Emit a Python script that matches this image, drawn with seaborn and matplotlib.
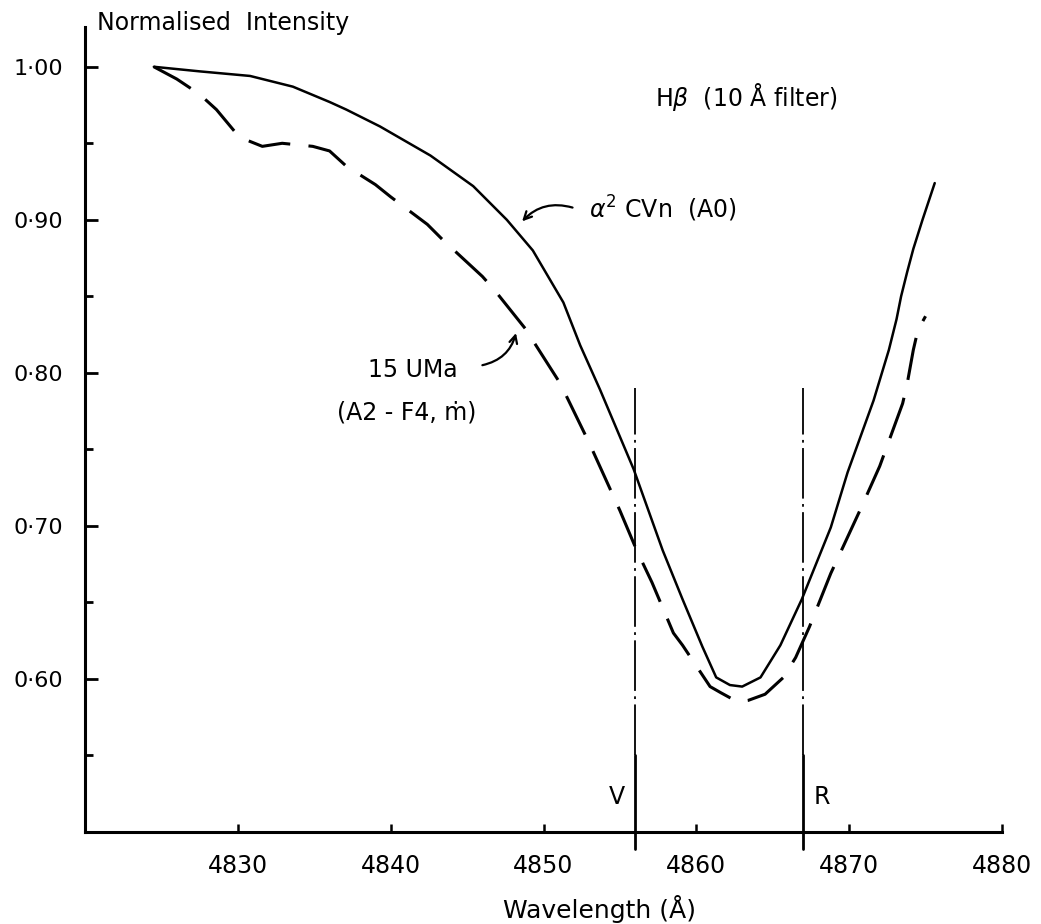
import matplotlib
matplotlib.use("Agg")
import matplotlib.pyplot as plt
import matplotlib.ticker as mticker
import seaborn as sns

# alpha^2 CVn (A0) - solid curve
wl_cvn = [4824.5, 4827.5, 4830.8, 4833.6, 4836.0, 4837.1, 4839.3, 4842.6, 4845.4,
          4847.6, 4849.3, 4851.3, 4852.4, 4853.7, 4855.9, 4857.8, 4859.1, 4860.4,
          4861.3, 4862.2, 4863.0, 4864.2, 4865.5, 4866.9, 4868.8, 4869.9, 4871.6,
          4872.6, 4873.1, 4873.4, 4873.8, 4874.2, 4874.8, 4875.6]
int_cvn = [1.000, 0.997, 0.994, 0.987, 0.977, 0.972, 0.961, 0.942, 0.922,
           0.900, 0.880, 0.846, 0.818, 0.789, 0.737, 0.684, 0.652, 0.621,
           0.601, 0.596, 0.595, 0.601, 0.622, 0.652, 0.699, 0.735, 0.782,
           0.815, 0.835, 0.850, 0.866, 0.881, 0.900, 0.924]

# 15 UMa (A2 - F4, m) - dashed curve
wl_uma = [4824.5, 4826.0, 4827.5, 4828.6, 4830.1, 4831.6, 4832.9, 4834.9, 4836.0,
          4837.1, 4839.0, 4840.0, 4842.4, 4843.4, 4846.0, 4846.8, 4848.8, 4851.1,
          4853.0, 4855.0, 4856.1, 4857.1, 4858.5, 4859.1, 4860.9, 4861.6, 4862.7,
          4863.4, 4864.5, 4865.7, 4866.5, 4867.4, 4868.8, 4870.7, 4872.0, 4873.5,
          4873.8, 4874.2, 4874.5, 4875.0]
int_uma = [1.000, 0.992, 0.982, 0.972, 0.954, 0.948, 0.950, 0.948, 0.945,
           0.935, 0.923, 0.915, 0.897, 0.887, 0.863, 0.854, 0.829, 0.793,
           0.754, 0.710, 0.684, 0.663, 0.630, 0.622, 0.595, 0.591, 0.585,
           0.586, 0.590, 0.601, 0.614, 0.634, 0.669, 0.710, 0.739, 0.780,
           0.793, 0.815, 0.828, 0.837]

# filter edges V and R
v_edge = 4856.0
r_edge = 4867.0

x_ticks = [4830, 4840, 4850, 4860, 4870, 4880]
y_ticks = [0.60, 0.70, 0.80, 0.90, 1.00]
y_tick_labels = ["0·60", "0·70", "0·80", "0·90", "1·00"]
y_minor = [0.55, 0.65, 0.75, 0.85, 0.95]

sns.set_style("ticks")
plt.rcParams["font.family"] = ["DejaVu Sans"]
plt.rcParams.update({"text.color": "black", "axes.labelcolor": "black",
                     "xtick.color": "black", "ytick.color": "black",
                     "axes.edgecolor": "black"})

fig = plt.figure(figsize=(10.41, 9.24), dpi=100)
ax = fig.add_axes([0.0817, 0.0996, 0.8808, 0.8712])

sns.lineplot(x=wl_cvn, y=int_cvn, ax=ax, color="black", lw=1.8, sort=False)
sns.lineplot(x=wl_uma, y=int_uma, ax=ax, color="black", lw=2.2, sort=False,
             linestyle=(0, (14, 6)))

# V and R lines (dash-dot above, solid near the axis, poking below it)
for xv in [v_edge, r_edge]:
    ax.plot([xv, xv], [0.55, 0.79], color="black", lw=1.3,
            linestyle=(0, (28, 3, 1.5, 3)))
    ax.plot([xv, xv], [0.489, 0.55], color="black", lw=2.0, clip_on=False)
ax.text(v_edge - 1.2, 0.523, "V", fontsize=17, ha="center", va="center")
ax.text(r_edge + 1.2, 0.523, "R", fontsize=17, ha="center", va="center")

ax.set_xlim(4820, 4880)
ax.set_ylim(0.50, 1.026)
ax.set_xticks(x_ticks)
ax.set_yticks(y_ticks)
ax.yaxis.set_major_formatter(mticker.FixedFormatter(y_tick_labels))
ax.set_yticks(y_minor, minor=True)

sns.despine(ax=ax)
for s in ["left", "bottom"]:
    ax.spines[s].set_linewidth(2.2)
    ax.spines[s].set_color("black")
ax.tick_params(axis="y", which="major", direction="in", length=9, width=2,
               labelsize=16, pad=16)
ax.tick_params(axis="y", which="minor", direction="in", length=6, width=2)
ax.tick_params(axis="x", which="major", direction="in", length=6, width=1.8,
               labelsize=17, pad=16)

ax.set_xlabel("Wavelength (Å)", fontsize=18, va="center")
ax.xaxis.set_label_coords(0.5616, -0.096)
fig.text(0.093, 0.975, "Normalised  Intensity", fontsize=17, ha="left", va="center")

ax.text(4857.3, 0.980, r"H$\beta$  (10 Å filter)", fontsize=17, ha="left", va="center")
ax.text(4853.0, 0.907, r"$\alpha^2$ CVn  (A0)", fontsize=17, ha="left", va="center")
ax.text(4838.5, 0.802, "15 UMa", fontsize=17, ha="left", va="center")
ax.text(4836.5, 0.774, "(A2 - F4, ṁ)", fontsize=17, ha="left", va="center")

arrow = dict(arrowstyle="->", color="black", lw=1.6, mutation_scale=14,
             shrinkA=0, shrinkB=0)
ax.annotate("", xy=(4848.6, 0.899), xytext=(4851.9, 0.908),
            arrowprops=dict(arrow, connectionstyle="arc3,rad=0.3"))
ax.annotate("", xy=(4848.2, 0.826), xytext=(4846.0, 0.805),
            arrowprops=dict(arrow, connectionstyle="arc3,rad=0.3"))

fig.savefig("out.png", dpi=100)
